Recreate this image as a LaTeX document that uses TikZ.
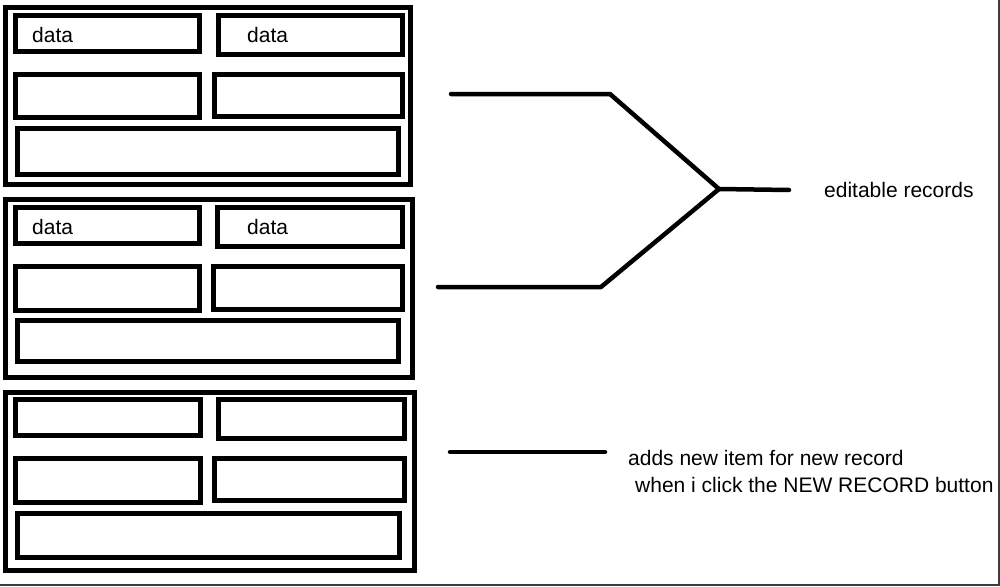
\documentclass[tikz,border=0pt]{standalone}
\usepackage{fontspec}
\setmainfont{Liberation Sans}
\begin{document}
\begin{tikzpicture}[x=1pt,y=-1pt,
  outerbox/.style={draw=black,line width=5.5pt,inner sep=0pt,outer sep=0pt,rectangle},
  fieldbox/.style={draw=black,line width=4.8pt,inner sep=0pt,outer sep=0pt,rectangle},
  conn/.style={draw=black,line width=4.5pt,line cap=round,line join=round},
  lbl/.style={anchor=base west,inner sep=0pt,font=\fontsize{21}{27}\selectfont},
  frame/.style={draw={rgb,255:red,60;green,60;blue,60},line width=2pt}]
\useasboundingbox (0,0) rectangle (1000,586);
\fill[white] (0,0) rectangle (1000,586);
\draw[frame] (999,0) -- (999,586);
\draw[frame] (0,585) -- (1000,585);

% record 1
\node[outerbox,minimum width=405pt,minimum height=177pt] (rec1) at (208,96) {};
\node[fieldbox,minimum width=184pt,minimum height=36pt] (r1a) at (107.5,33.5) {};
\node[fieldbox,minimum width=184pt,minimum height=39pt] (r1b) at (310.5,35) {};
\node[fieldbox,minimum width=184pt,minimum height=43pt] (r1c) at (107.5,96) {};
\node[fieldbox,minimum width=188pt,minimum height=42pt] (r1d) at (308.5,95.5) {};
\node[fieldbox,minimum width=381pt,minimum height=46pt] (r1e) at (208,151.5) {};
\node[lbl] (t1a) at (32,42) {data};
\node[lbl] (t1b) at (247,42) {data};

% record 2
\node[outerbox,minimum width=407pt,minimum height=178pt] (rec2) at (209,288.5) {};
\node[fieldbox,minimum width=184pt,minimum height=36pt] (r2a) at (107.5,225.5) {};
\node[fieldbox,minimum width=185pt,minimum height=39pt] (r2b) at (310,227) {};
\node[fieldbox,minimum width=184pt,minimum height=44pt] (r2c) at (107.5,288.5) {};
\node[fieldbox,minimum width=189pt,minimum height=43pt] (r2d) at (308,288) {};
\node[fieldbox,minimum width=381pt,minimum height=41pt] (r2e) at (208,341) {};
\node[lbl] (t2a) at (32,234) {data};
\node[lbl] (t2b) at (247,234) {data};

% record 3
\node[outerbox,minimum width=409pt,minimum height=178pt] (rec3) at (210,481.5) {};
\node[fieldbox,minimum width=185pt,minimum height=36pt] (r3a) at (108,417.5) {};
\node[fieldbox,minimum width=186pt,minimum height=39pt] (r3b) at (311.5,419) {};
\node[fieldbox,minimum width=185pt,minimum height=44pt] (r3c) at (108,480.5) {};
\node[fieldbox,minimum width=190pt,minimum height=42pt] (r3d) at (309.5,479.5) {};
\node[fieldbox,minimum width=382pt,minimum height=44pt] (r3e) at (208.5,535.5) {};

% connectors
\coordinate (a1) at (451,94);
\coordinate (a2) at (610,94);
\coordinate (j) at (719,189);
\coordinate (jend) at (789,190);
\coordinate (b1) at (438,287);
\coordinate (b2) at (601,287);
\coordinate (c1) at (450,452);
\coordinate (c2) at (605,452);
\draw[conn] (a1) -- (a2) -- (j) -- (jend);
\draw[conn] (b1) -- (b2) -- (j);
\draw[conn] (c1) -- (c2);

\node[lbl] (ed) at (824,197) {editable records};
\node[lbl] (add1) at (628,465) {adds new item for new record};
\node[lbl] (add2) at (635,492) {when i click the NEW RECORD button};
\end{tikzpicture}
\end{document}
